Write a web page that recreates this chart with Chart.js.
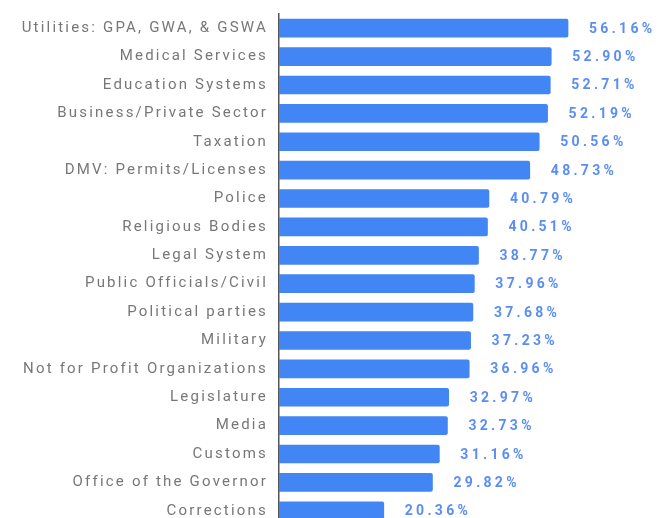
<!DOCTYPE html>
<html>
<head>
<meta charset="utf-8">
<script src="https://cdn.jsdelivr.net/npm/chart.js@4"></script>
<style>
  html, body { margin: 0; padding: 0; background: #fff; overflow: hidden; }
  #wrap { width: 667px; height: 530px; }
</style>
</head>
<body>
<div id="wrap"><canvas id="grafico"></canvas></div>
<script>
const categorias = [
  'Utilities: GPA, GWA, & GSWA', 'Medical Services', 'Education Systems',
  'Business/Private Sector', 'Taxation', 'DMV: Permits/Licenses', 'Police',
  'Religious Bodies', 'Legal System', 'Public Officials/Civil', 'Political parties',
  'Military', 'Not for Profit Organizations', 'Legislature', 'Media', 'Customs',
  'Office of the Governor', 'Corrections'
];
const valores = [56.16, 52.90, 52.71, 52.19, 50.56, 48.73, 40.79, 40.51, 38.77,
  37.96, 37.68, 37.23, 36.96, 32.97, 32.73, 31.16, 29.82, 20.36];

// escreve o valor ao lado de cada barra
const rotulosValor = {
  id: 'rotulosValor',
  afterDatasetsDraw(chart) {
    const ctx = chart.ctx;
    const meta = chart.getDatasetMeta(0);
    ctx.save();
    ctx.font = 'bold 14px Roboto';
    ctx.letterSpacing = '3.3px';
    ctx.fillStyle = '#5b8ef2';
    ctx.textBaseline = 'middle';
    ctx.textAlign = 'left';
    meta.data.forEach((bar, i) => {
      ctx.fillText(valores[i].toFixed(2) + '%', bar.x + 21, bar.y + 1);
    });
    ctx.restore();
  }
};

// espacamento das letras nos rotulos do eixo
const espacamento = {
  id: 'espacamento',
  beforeDraw(chart) { chart.ctx.letterSpacing = '2.2px'; }
};

new Chart(document.getElementById('grafico'), {
  type: 'bar',
  data: {
    labels: categorias,
    datasets: [{
      data: valores,
      backgroundColor: '#4285f4',
      borderRadius: 2,
      borderSkipped: 'start',
      barThickness: 18
    }]
  },
  options: {
    indexAxis: 'y',
    responsive: true,
    maintainAspectRatio: false,
    animation: false,
    layout: { padding: { top: 14, right: 2, bottom: 5, left: 0 } },
    plugins: { legend: { display: false }, tooltip: { enabled: false } },
    scales: {
      x: {
        min: 0, max: 75,
        display: false
      },
      y: {
        afterFit(scale) {
          scale.width = 279;
          scale.paddingTop = 0;
          scale.paddingBottom = 0;
        },
        grid: { display: false, drawTicks: false },
        border: { display: true, color: '#555', width: 1.5 },
        ticks: {
          color: '#777',
          font: { family: 'Roboto', size: 15 },
          padding: 11
        }
      }
    }
  },
  plugins: [espacamento, rotulosValor]
});
</script>
</body>
</html>
